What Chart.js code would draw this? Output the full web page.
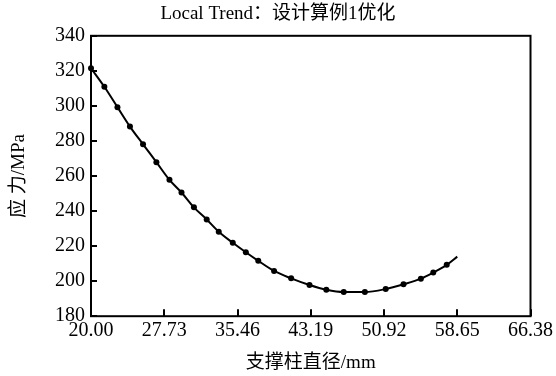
<!DOCTYPE html>
<html>
<head>
<meta charset="utf-8">
<script src="https://cdn.jsdelivr.net/npm/chart.js@4.4.0/dist/chart.umd.min.js"></script>
<style>
  html, body { margin: 0; padding: 0; background: #fff; }
  #wrap { width: 556px; height: 376px; }
</style>
</head>
<body>
<div id="wrap"><canvas id="stressChart" width="556" height="376"></canvas></div>
<script>
"use strict";

// 支撑柱直径 (mm) 与应力 (MPa)
const diameters = [20.00, 21.41, 22.79, 24.11, 25.49, 26.90, 28.28, 29.55, 30.86, 32.21,
                   33.48, 34.96, 36.34, 37.65, 39.32, 41.12, 43.06, 44.83, 46.67, 48.90,
                   51.10, 52.98, 54.81, 56.12, 57.54, 58.65];
const stresses  = [321.5, 310.9, 299.3, 288.2, 278.1, 267.9, 257.8, 250.6, 242.1, 235.2,
                   228.2, 221.9, 216.5, 211.6, 205.8, 201.6, 197.8, 195.1, 193.8, 193.8,
                   195.5, 198.2, 201.4, 204.9, 209.3, 214.0];
const xTickValues = [20.00, 27.73, 35.46, 43.19, 50.92, 58.65, 66.38];
const yTickValues = [180, 200, 220, 240, 260, 280, 300, 320, 340];

const FONT = "'Liberation Serif', 'Noto Sans CJK SC', serif";

// 内向刻度 + 外框
const framePlugin = {
  id: "frame",
  afterDraw(chart) {
    const { ctx, chartArea: a, scales } = chart;
    ctx.save();
    ctx.strokeStyle = "#000";
    ctx.lineWidth = 2;
    ctx.strokeRect(a.left, a.top, a.right - a.left, a.bottom - a.top);
    ctx.beginPath();
    xTickValues.forEach(v => {
      const x = Math.round(scales.x.getPixelForValue(v));
      ctx.moveTo(x, a.bottom);
      ctx.lineTo(x, a.bottom - 7);
    });
    yTickValues.forEach(v => {
      const y = Math.round(scales.y.getPixelForValue(v));
      ctx.moveTo(a.left, y);
      ctx.lineTo(a.left + 6, y);
    });
    ctx.stroke();
    ctx.restore();
  }
};

new Chart(document.getElementById("stressChart").getContext("2d"), {
  type: "line",
  data: {
    datasets: [{
      data: diameters.map((d, i) => ({ x: d, y: stresses[i] })),
      borderColor: "#000",
      backgroundColor: "#000",
      borderWidth: 2,
      cubicInterpolationMode: "monotone",
      pointRadius: c => (c.dataIndex === diameters.length - 1 ? 0 : 3),
      pointBackgroundColor: "#000",
      pointBorderWidth: 0,
      clip: false
    }]
  },
  options: {
    responsive: false,
    animation: false,
    layout: { padding: { left: 8, right: 8, top: 0, bottom: 2 } },
    plugins: {
      legend: { display: false },
      tooltip: { enabled: false },
      title: {
        display: true,
        text: "Local Trend：设计算例1优化",
        color: "#000",
        font: { family: FONT, size: 19, weight: "normal" },
        padding: { top: 3, bottom: 10 }
      }
    },
    scales: {
      x: {
        type: "linear",
        min: 20.00, max: 66.38,
        afterBuildTicks: s => { s.ticks = xTickValues.map(v => ({ value: v })); },
        ticks: {
          color: "#000",
          font: { family: FONT, size: 20 },
          padding: 3,
          maxRotation: 0,
          autoSkip: false,
          callback: v => Number(v).toFixed(2)
        },
        grid: { display: false, drawTicks: false },
        border: { display: false },
        title: {
          display: true,
          text: "支撑柱直径/mm",
          color: "#000",
          font: { family: FONT, size: 19 },
          padding: { top: 5, bottom: 0 }
        }
      },
      y: {
        type: "linear",
        min: 180, max: 340,
        afterBuildTicks: s => { s.ticks = yTickValues.map(v => ({ value: v })); },
        afterFit: s => { s.width = 83; },
        ticks: {
          color: "#000",
          font: { family: FONT, size: 20 },
          padding: 6
        },
        grid: { display: false, drawTicks: false },
        border: { display: false },
        title: {
          display: true,
          text: "应 力/MPa",
          color: "#000",
          font: { family: FONT, size: 19 },
          padding: 0
        }
      }
    }
  },
  plugins: [framePlugin]
});
</script>
</body>
</html>
